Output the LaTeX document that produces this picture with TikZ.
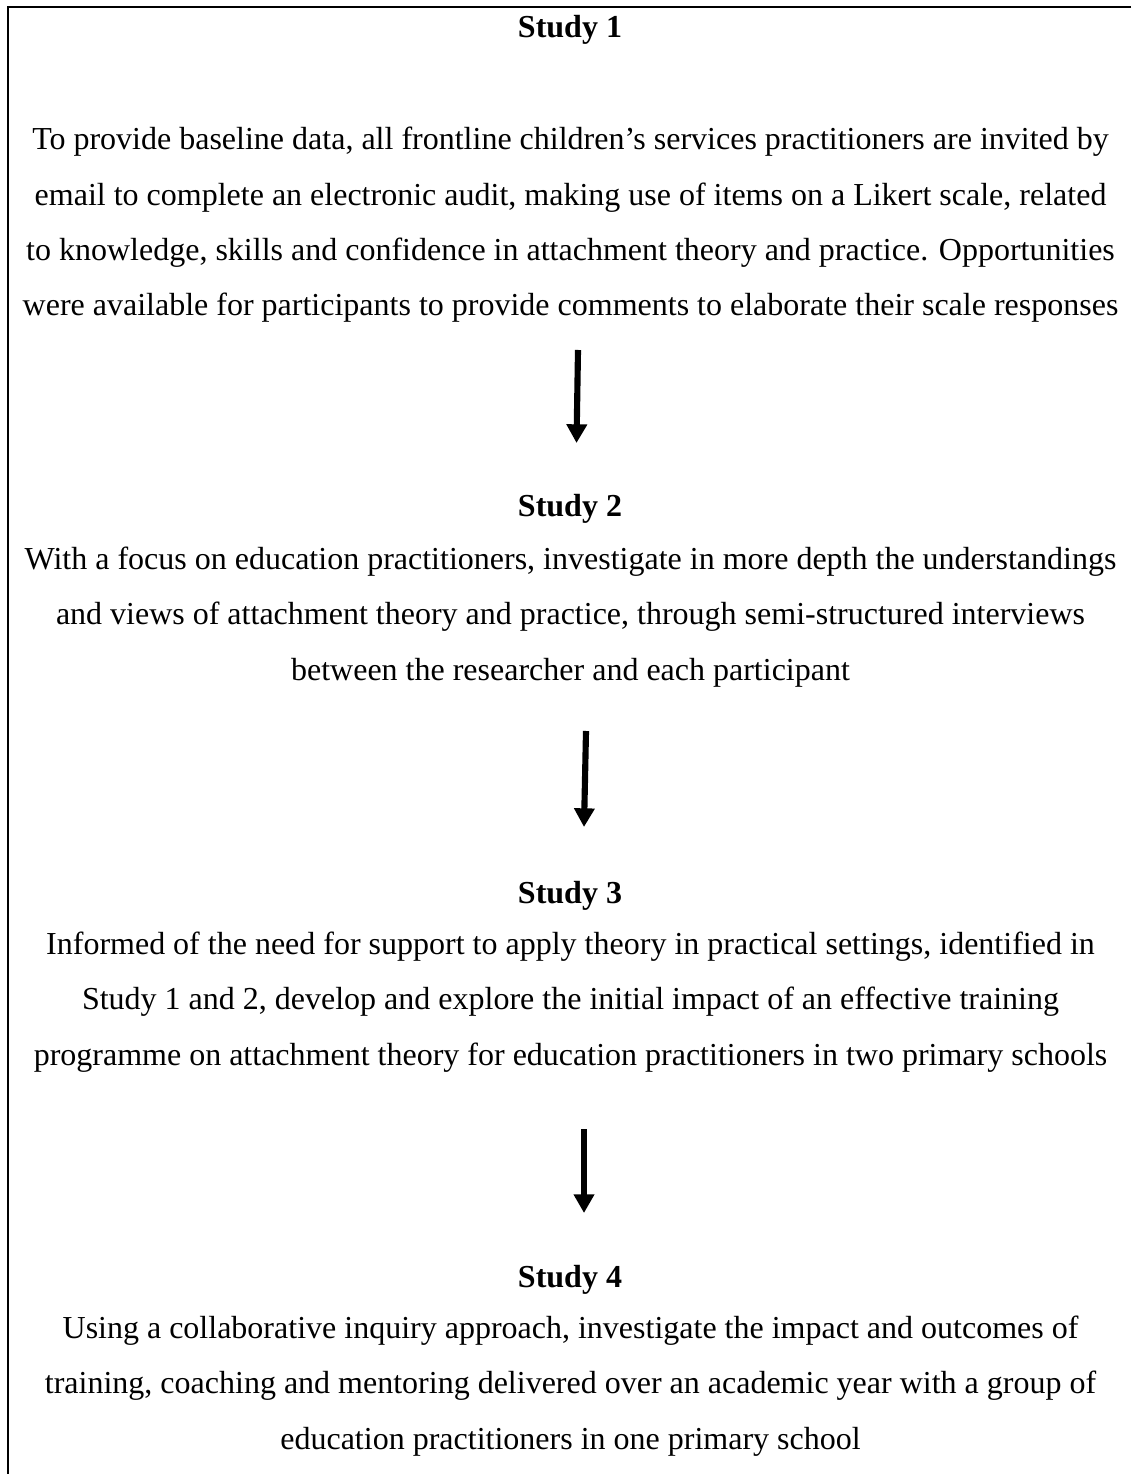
\documentclass[tikz,border=0pt]{standalone}
\usepackage{fontspec}
\setmainfont{Liberation Serif}
\usetikzlibrary{arrows.meta}
\begin{document}
\begin{tikzpicture}[x=0.375pt,y=-0.375pt,
  txt/.style={inner sep=0pt,align=center,anchor=base,font=\fontsize{12pt}{20.81pt}\selectfont},
  ttl/.style={txt,font=\fontsize{12pt}{20.81pt}\selectfont\bfseries},
  flow/.style={line width=2.3pt,-{Triangle[width=7.4pt,length=7pt]}},
  frame/.style={line width=0.68pt}]
\useasboundingbox (0,0) rectangle (1131,1474);
% frame along the top and left edges
\draw[frame] (1131,7) -- (8,7) -- (8,1474);

% Study 1 (paragraph nodes sit on the baseline of their last line)
\node[ttl] (s1title) at (570,37.5) {Study 1};
\node[txt] (s1body) at (570.5,316) {To provide baseline data, all frontline children’s services practitioners are invited by\\
email to complete an electronic audit, making use of items on a Likert scale, related\\
to knowledge, skills and confidence in attachment theory and practice. Opportunities\\
were available for participants to provide comments to elaborate their scale responses};

% Study 2
\node[ttl] (s2title) at (570,517) {Study 2};
\node[txt] (s2body) at (570.5,680) {With a focus on education practitioners, investigate in more depth the understandings\\
and views of attachment theory and practice, through semi-structured interviews\\
between the researcher and each participant};

% Study 3
\node[ttl] (s3title) at (570,903) {Study 3};
\node[txt] (s3body) at (570.5,1065) {Informed of the need for support to apply theory in practical settings, identified in\\
Study 1 and 2, develop and explore the initial impact of an effective training\\
programme on attachment theory for education practitioners in two primary schools};

% Study 4
\node[ttl] (s4title) at (570,1287) {Study 4};
\node[txt] (s4body) at (570.5,1449) {Using a collaborative inquiry approach, investigate the impact and outcomes of\\
training, coaching and mentoring delivered over an academic year with a group of\\
education practitioners in one primary school};

% arrows between the studies
\coordinate (a1from) at (578,350);
\coordinate (a1to) at (576.5,443);
\coordinate (a2from) at (586,731);
\coordinate (a2to) at (584,827);
\coordinate (a3from) at (584,1129);
\coordinate (a3to) at (584,1213);
\draw[flow] (a1from) -- (a1to);
\draw[flow] (a2from) -- (a2to);
\draw[flow] (a3from) -- (a3to);
\end{tikzpicture}
\end{document}
